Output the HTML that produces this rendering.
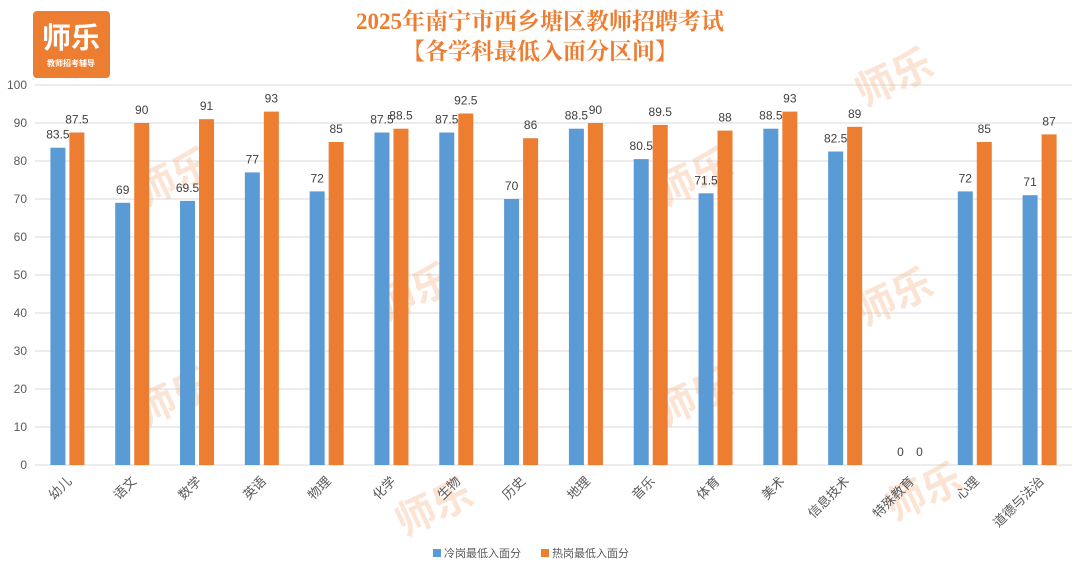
<!DOCTYPE html>
<html><head><meta charset="utf-8">
<style>
html,body{margin:0;padding:0;background:#fff;width:1080px;height:576px;overflow:hidden}
svg{display:block;font-family:"Liberation Sans","Noto Sans CJK SC",sans-serif}
</style></head>
<body>
<svg id="c" width="1080" height="576" viewBox="0 0 1080 576">
  <g>
    <rect x="33" y="11" width="77" height="67" rx="4" fill="#ed7d31"/>
    <text x="71" y="48" text-anchor="middle" font-size="29" font-weight="bold" fill="#fff">师乐</text>
    <text x="71" y="66" text-anchor="middle" font-size="8" font-weight="bold" fill="#fff">教师招考辅导</text>
  </g>
  <text x="540" y="29" text-anchor="middle" font-size="23" font-weight="bold" fill="#ed7d31" font-family="'Liberation Serif','Noto Serif CJK SC',serif">2025年南宁市西乡塘区教师招聘考试</text>
  <text x="540" y="59" text-anchor="middle" font-size="23" font-weight="bold" fill="#ed7d31" font-family="'Liberation Serif','Noto Serif CJK SC',serif">【各学科最低入面分区间】</text>
  <g id="grid"></g>
  <g id="wm" opacity="0.35"></g>
  <g id="bars"></g>
  <g id="labels"></g>
  <g>
    <rect x="433" y="549" width="8" height="8" fill="#5b9bd5"/>
    <text x="444" y="557" font-size="11" fill="#595959">冷岗最低入面分</text>
    <rect x="541" y="549" width="8" height="8" fill="#ed7d31"/>
    <text x="552" y="557" font-size="11" fill="#595959">热岗最低入面分</text>
  </g>
</svg>
<script>
const categories=["幼儿","语文","数学","英语","物理","化学","生物","历史","地理","音乐","体育","美术","信息技术","特殊教育","心理","道德与法治"];
const coldValues=[83.5,69,69.5,77,72,87.5,87.5,70,88.5,80.5,71.5,88.5,82.5,0,72,71];
const hotValues=[87.5,90,91,93,85,88.5,92.5,86,90,89.5,88,93,89,0,85,87];
const yTicks=[0,10,20,30,40,50,60,70,80,90,100];
const NS="http://www.w3.org/2000/svg";
const X0=35,X1=1072,Y0=465,Y1=85;
const band=(X1-X0)/categories.length;
const y=v=>Y0-(v/100)*(Y0-Y1);
const xc=i=>X0+band*(i+0.5);
function mk(t,a,p){const e=document.createElementNS(NS,t);for(const k in a)e.setAttribute(k,a[k]);p.appendChild(e);return e;}
const grid=document.getElementById('grid');
yTicks.forEach(t=>{
  const l=mk('line',{x1:X0,x2:X1,y1:y(t),y2:y(t),stroke:'#d9d9d9','stroke-width':1},grid);
  
  
  const tx=mk('text',{x:27,y:y(t)+4,'text-anchor':'end','font-size':12,fill:'#595959'},grid);
  tx.textContent=t;
  
  
});
const wm=document.getElementById('wm');
[[180,190],[420,305],[700,190],[900,310],[180,410],[440,520],[700,410],[900,90],[930,505]].forEach(p=>{
  const t=mk('text',{x:p[0],y:p[1],'font-size':40,'font-weight':'bold',fill:'#f4b183','text-anchor':'middle',transform:`rotate(-25 ${p[0]} ${p[1]})`},wm);
  t.textContent='师乐';
  
  
});
const bars=document.getElementById('bars'),labels=document.getElementById('labels');
const bw=15,gap=4;
categories.forEach((c,i)=>{
  const cx=xc(i);
  [[coldValues[i],'#5b9bd5',cx-gap/2-bw,'cold'],[hotValues[i],'#ed7d31',cx+gap/2,'hot']].forEach(s=>{
    const r=mk('rect',{x:s[2],y:y(s[0]),width:bw,height:Y0-y(s[0]),fill:s[1]},bars);
    
    
    const t=mk('text',{x:s[2]+bw/2,y:y(s[0])-9,'text-anchor':'middle','font-size':12,fill:'#404040'},labels);
    t.textContent=s[0];
    
    
  });
  const lx=cx+5,ly=Y0+17;
  const t=mk('text',{x:lx,y:ly,'text-anchor':'end','font-size':13,fill:'#595959',transform:`rotate(-45 ${lx} ${ly})`},labels);
  t.textContent=c;
  
  
});
</script>
</body></html>
